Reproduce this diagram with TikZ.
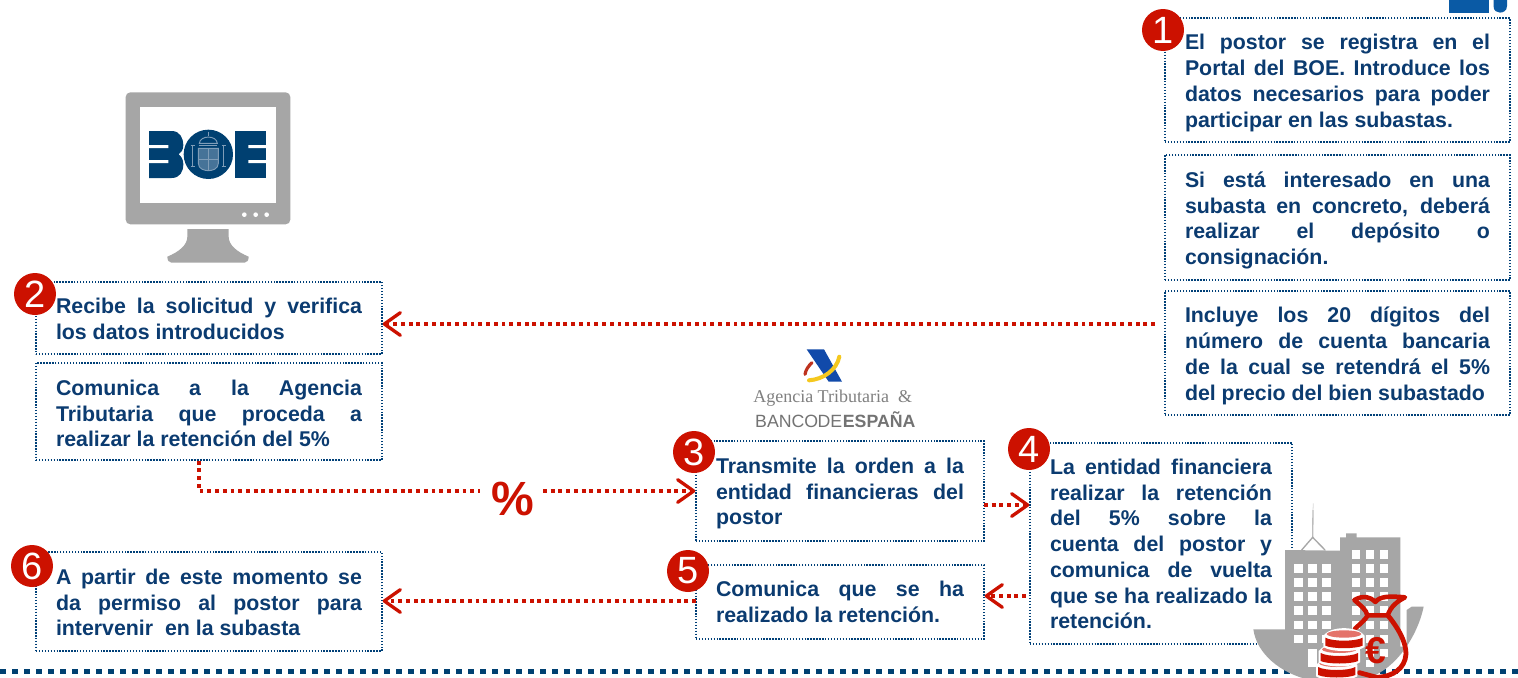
\documentclass[tikz,border=0pt]{standalone}
\usepackage{fontspec}
\setmainfont{Liberation Sans}
\newfontfamily\serifat{Liberation Serif}
\usetikzlibrary{arrows.meta,calc}
\definecolor{navy}{HTML}{0B3B70}
\definecolor{boxblue}{HTML}{004078}
\definecolor{redn}{HTML}{CC1100}
\definecolor{greym}{HTML}{A6A6A6}
\definecolor{boeblue}{HTML}{004071}
\definecolor{boelite}{HTML}{7F9DB8}
\definecolor{coinlite}{HTML}{E4736A}
\emergencystretch=3em
\tikzset{
  infobox/.style={draw=boxblue,line width=1pt,dash pattern=on 1.05pt off 1.15pt,fill=white,
    text=navy,font=\fontsize{16}{19.3}\selectfont\bfseries,align=justify,
    inner xsep=15pt,inner ysep=0pt,anchor=center},
  txtdown/.style={execute at begin node={\rule{0pt}{\dimexpr 11.7pt+#1\relax}}},
  numdot/.style={circle,fill=redn,text=white,minimum size=31.5pt,inner sep=0pt,
    font=\fontsize{28.5}{28.5}\selectfont},
  conn/.style={draw=redn,line width=2.7pt,dash pattern=on 2.9pt off 2.9pt,
    -{Straight Barb[length=12pt,width=17pt,line width=2.5pt,round]}},
  connplain/.style={draw=redn,line width=2.7pt,dash pattern=on 2.9pt off 2.9pt},
  winw/.style={fill=white,draw=none}
}
\newcommand{\moneycoin}[2]{%
  \fill[white] (#1-62,#2) -- (#1-62,#2+34) .. controls (#1-40,#2+50) and (#1+40,#2+50) .. (#1+62,#2+34) -- (#1+62,#2)
     .. controls (#1+40,#2-30) and (#1-40,#2-30) .. cycle;
  \fill[redn] (#1-56,#2+6) -- (#1-56,#2+30) .. controls (#1-35,#2+40) and (#1+35,#2+40) .. (#1+56,#2+30) -- (#1+56,#2+6)
     .. controls (#1+35,#2+18) and (#1-35,#2+18) .. cycle;
  \fill[coinlite] (#1,#2-5) ellipse [x radius=52,y radius=11];
}
\begin{document}
\begin{tikzpicture}[x=0.75pt,y=-0.75pt]
\useasboundingbox (0,0) rectangle (1518,678);
\fill[white] (0,0) rectangle (1518,678);

% top-right fragment
\fill[fill={rgb,255:red,10;green,90;blue,165}] (1449,0) rectangle (1489,12.6);
\fill[fill={rgb,255:red,10;green,90;blue,165}] (1493.5,0) -- (1507,0) -- (1507,6) .. controls (1507,11) and (1503,12.6) .. (1500,12.6) .. controls (1497,12.6) and (1493.5,11) .. (1493.5,6) -- cycle;

% bottom dashed rule
\draw[boeblue,line width=3.9pt,dash pattern=on 4.4pt off 4.6pt] (0,671.5) -- (1518,671.5);

% text boxes
\node[infobox,txtdown=4.5pt,text width=228.75pt,minimum height=93pt] (b1) at (1337.5,80)
 {El postor se registra en el\linebreak Portal del BOE. Introduce los\linebreak datos necesarios para poder\linebreak participar en las subastas.};
\node[infobox,txtdown=4.5pt,text width=228.75pt,minimum height=93.75pt] (b1b) at (1337.5,217.5)
 {Si está interesado en una\linebreak subasta en concreto, deberá\linebreak realizar el depósito o\linebreak consignación.};
\node[infobox,txtdown=4.5pt,text width=228.75pt,minimum height=93pt] (b1c) at (1337.5,353)
 {Incluye los 20 dígitos del\linebreak número de cuenta bancaria\linebreak de la cual se retendrá el 5\%\linebreak del precio del bien subastado};
\node[infobox,txtdown=1.5pt,text width=229.5pt,minimum height=54pt] (b2) at (209,318)
 {Recibe la solicitud y verifica\linebreak los datos introducidos};
\node[infobox,txtdown=3pt,text width=229.5pt,minimum height=72.75pt] (b2b) at (209,411.5)
 {Comunica a la Agencia\linebreak Tributaria que proceda a\linebreak realizar la retención del 5\%};
\node[infobox,txtdown=1.5pt,text width=229.5pt,minimum height=74.25pt] (b6) at (209,601.5)
 {A partir de este momento se\linebreak da permiso al postor para\linebreak intervenir\ \ en la subasta};
\node[infobox,txtdown=3.75pt,text width=186pt,minimum height=75pt] (b3) at (840,491)
 {Transmite la orden a la\linebreak entidad financieras del\linebreak postor};
\node[infobox,text width=186pt,minimum height=55.5pt] (b5) at (840,602)
 {Comunica que se ha\linebreak realizado la retención.};
\node[infobox,txtdown=0.75pt,text width=166.5pt,minimum height=150.75pt] (b4) at (1161,543.5)
 {La entidad financiera\linebreak realizar la retención\linebreak del 5\% sobre la\linebreak cuenta del postor y\linebreak comunica de vuelta\linebreak que se ha realizado la\linebreak retención.};

% number badges
\node[numdot] (n1) at (1163,30) {1};
\node[numdot] (n2) at (35,294) {2};
\node[numdot] (n3) at (694,452) {3};
\node[numdot] (n4) at (1029,449) {4};
\node[numdot] (n5) at (688,571) {5};
\node[numdot] (n6) at (32,566) {6};

% percent label
\node[text=redn,font=\fontsize{36}{36}\selectfont\bfseries,inner sep=0pt] (pct) at (513,499) {\%};

% connector anchors
\coordinate (a1) at (1155,324);
\coordinate (a2) at (199,491);
\coordinate (a3) at (480,491);
\coordinate (a4) at (543,491);
\coordinate (a5) at (984,505);
\coordinate (a6) at (1026,596);
\coordinate (a7) at (696,601);

\draw[conn] (a1) -- (a1 -| b2.east);
\draw[connplain] (a2 |- b2b.south) -- (a2) -- (a3);
\draw[conn] (a4) -- (a4 -| b3.west);
\draw[conn] (a5) -- (a5 -| b4.west);
\draw[conn] (a6) -- (a6 -| b5.east);
\draw[conn] (a7) -- (a7 -| b6.east);

% BOE monitor
\begin{scope}[shift={(100,80)},x=0.25pt,y=-0.25pt]
  \fill[greym,rounded corners=3.5pt] (77,37) rectangle (571,433);
  \fill[white] (120,81) rectangle (528,368);
  \fill[white] (433,404) circle (7) (467,404) circle (7) (500,404) circle (7);
  \fill[greym] (262,447) -- (386,447) -- (386,470) .. controls (386,495) and (410,515) .. (446,530)
     .. controls (446,540) and (442,548) .. (434,548) -- (214,548) .. controls (206,548) and (202,540) .. (202,530)
     .. controls (238,515) and (262,495) .. (262,470) -- cycle;
  % BOE logo
  \fill[boeblue] (147,153) -- (215,153) .. controls (240,153) and (250,175) .. (250,195) .. controls (250,210) and (243,218) .. (236,223)
     .. controls (243,228) and (250,238) .. (250,252) .. controls (250,275) and (240,294) .. (215,294) -- (147,294) -- cycle;
  \fill[white] (147,195) rectangle (205,204) (147,240) rectangle (205,249);
  \fill[boeblue] (405,153) rectangle (498,294);
  \fill[white] (445,195) rectangle (498,204) (445,240) rectangle (498,249);
  \fill[white] (325,223) circle (77);
  \fill[boeblue] (325,223) circle (74);
  \begin{scope}[draw=boelite,line width=0.7pt]
    \draw (298,190) .. controls (300,165) and (350,165) .. (352,190) -- cycle;
    \draw (325,155) -- (325,168);
    \draw (298,197) -- (352,197);
    \draw[fill=boelite!55!boeblue] (295,205) -- (355,205) -- (355,250) .. controls (355,268) and (335,272) .. (325,272) .. controls (315,272) and (295,268) .. (295,250) -- cycle;
    \draw (325,205) -- (325,272) (295,238) -- (355,238);
    \draw (278,195) -- (278,258) (272,195) -- (284,195) (272,258) -- (284,258);
    \draw (371,195) -- (371,258) (365,195) -- (377,195) (365,258) -- (377,258);
  \end{scope}
\end{scope}

% Agencia Tributaria logo
\begin{scope}[shift={(680,340)},x=0.25pt,y=-0.25pt]
  \fill[fill={rgb,255:red,17;green,74;blue,170}] (380,28) -- (432,28) -- (486,125) -- (446,125) -- cycle;
  \draw[line width=3pt,color={rgb,255:red,245;green,200;blue,30},line cap=round] (478,50) .. controls (470,90) and (430,118) .. (387,121);
  \draw[line width=2.4pt,color={rgb,255:red,190;green,50;blue,30},line cap=round] (396,68) .. controls (385,78) and (377,90) .. (375,103);
  \node[inner sep=0pt,text=black!50,font=\serifat\fontsize{13.5}{13.5}\selectfont] (at1) at (458,175) {Agencia Tributaria\ \ \&};
  \node[inner sep=0pt,text=black!55,font=\fontsize{13.3}{13.3}\selectfont] (at2) at (466,238) {BANCO\kern-0.5pt DE\kern0.5pt\textbf{ESPAÑA}};
\end{scope}

% buildings and money
\begin{scope}
\clip (0,0) rectangle (1518,678);
\begin{scope}[shift={(1220,490)},x=0.25pt,y=-0.25pt]
  \draw[greym!75,line width=1pt] (278,142) -- (279,60);
  \draw[greym!40,line width=0.6pt] (279,60) -- (280,40);
  \draw[greym,line width=1pt] (245,180) -- (278,142) -- (315,180);
  \fill[greym] (195,180) -- (360,182) -- (360,142) -- (364,142) -- (378,142) -- (378,130) -- (410,130) -- (410,142) -- (541,142) -- (541,470)
     -- (560,470) -- (560,360) -- (575,350) -- (611,350) .. controls (590,450) and (510,564) .. (410,570) -- (270,570)
     .. controls (180,550) and (110,490) .. (100,418) -- (195,418) -- cycle;
  \foreach \y in {222,264,306,349,392,434} \foreach \x in {223,265,307} \fill[winw] (\x,\y) rectangle ++(26,26);
  \foreach \y in {180,222,264,306,349,392,434,476} \foreach \x in {396,437,479} \fill[winw] (\x,\y) rectangle ++(25,26);
  \fill[winw] (265,478) rectangle (291,530);
  \fill[winw] (437,510) rectangle (463,532);
  % bag
  \draw[redn,line width=3.4pt,line join=round,line cap=round]
    (403,330) .. controls (430,315) and (450,320) .. (466,336) .. controls (480,318) and (510,318) .. (555,322)
    .. controls (530,335) and (512,350) .. (503,376) -- (442,376) .. controls (440,360) and (420,345) .. (403,330) -- cycle;
  \draw[redn,line width=3.4pt,line cap=round]
    (442,378) .. controls (435,390) and (420,402) .. (405,416);
  \draw[redn,line width=3.6pt,line cap=round]
    (505,378) .. controls (535,415) and (558,455) .. (558,492) .. controls (555,535) and (520,560) .. (470,562) -- (418,548);
  \node[text=redn,inner sep=0pt,font=\fontsize{28}{28}\selectfont\bfseries] (euro) at (468,483) {€};
  % coins
  \moneycoin{350}{525}
  \moneycoin{358}{483}
  \moneycoin{372}{437}
\end{scope}
\end{scope}
\end{tikzpicture}
\end{document}
